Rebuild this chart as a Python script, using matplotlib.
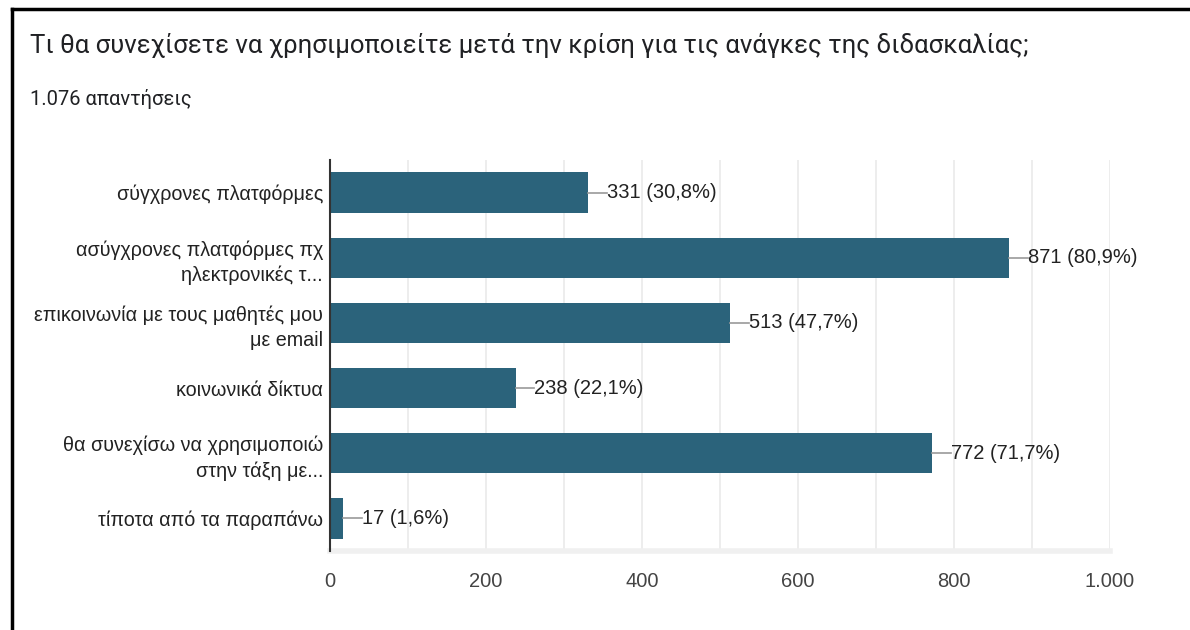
import matplotlib.pyplot as plt
from matplotlib.lines import Line2D
from matplotlib.ticker import FuncFormatter, MultipleLocator

plt.rcParams['font.family'] = ['Liberation Sans', 'DejaVu Sans']

# Données
title = "Τι θα συνεχίσετε να χρησιμοποιείτε μετά την κρίση για τις ανάγκες της διδασκαλίας;"
n_answers = 1076
categories = [
    "σύγχρονες πλατφόρμες",
    "ασύγχρονες πλατφόρμες πχ\nηλεκτρονικές τ...",
    "επικοινωνία με τους μαθητές μου\nμε email",
    "κοινωνικά δίκτυα",
    "θα συνεχίσω να χρησιμοποιώ\nστην τάξη με...",
    "τίποτα από τα παραπάνω",
]
counts = [331, 871, 513, 238, 772, 17]
x_ticks = [0, 200, 400, 600, 800, 1000]

bar_color = "#2b637b"
text_color = "#222222"

fig = plt.figure(figsize=(11.9, 6.3), dpi=100)
ax = fig.add_axes([330 / 1190, 1 - 551 / 630, 780 / 1190, 391 / 630])

y = list(range(len(categories)))
ax.barh(y, counts, height=0.62, color=bar_color, zorder=3)

# étiquettes avec trait
lead = 24
for yi, c in zip(y, counts):
    ax.plot([c, c + lead], [yi, yi], color="#999999", lw=1.2, zorder=3, clip_on=False)
    pct = f"{100 * c / n_answers:.1f}".replace(".", ",")
    ax.text(c + lead, yi, f"{c} ({pct}%)", va="center", ha="left",
            fontsize=14.5, color=text_color, zorder=4)

ax.set_ylim(len(categories) - 0.5, -0.5)
ax.set_xlim(0, 1000)
ax.set_yticks(y)
ax.set_yticklabels(categories, fontsize=14.2, color=text_color, linespacing=1.4)
ax.set_xticks(x_ticks)
ax.xaxis.set_minor_locator(MultipleLocator(100))
ax.xaxis.set_major_formatter(FuncFormatter(lambda v, p: f"{int(v):,}".replace(",", ".")))
ax.tick_params(axis="x", length=0, which="both", labelsize=14.5, labelcolor="#444444", pad=15)
ax.tick_params(axis="y", length=0, pad=5)
ax.grid(axis="x", which="both", color="#ececec", lw=1.3, zorder=0)

for s in ["top", "right"]:
    ax.spines[s].set_visible(False)
ax.spines["left"].set_color("#333333")
ax.spines["left"].set_linewidth(1.5)
ax.spines["left"].set_zorder(5)
ax.spines["bottom"].set_color("#f0f0f0")
ax.spines["bottom"].set_linewidth(4)

# Titre et sous-titre
fig.text(30 / 1190, 1 - 45 / 630, title, fontsize=18.5, color="#202124",
         family=["Roboto", "DejaVu Sans"], va="center", ha="left")
fig.text(30 / 1190, 1 - 99 / 630, f"{n_answers:,} απαντήσεις".replace(",", "."),
         fontsize=14.5, color="#202124", family=["Roboto", "DejaVu Sans"],
         va="center", ha="left")

# cadre noir
fig.add_artist(Line2D([12 / 1190, 1], [1 - 9 / 630, 1 - 9 / 630], color="black", lw=2.5))
fig.add_artist(Line2D([12 / 1190, 12 / 1190], [0, 1 - 9 / 630], color="black", lw=2.5))

fig.savefig("out.png", dpi=100, facecolor="white")
